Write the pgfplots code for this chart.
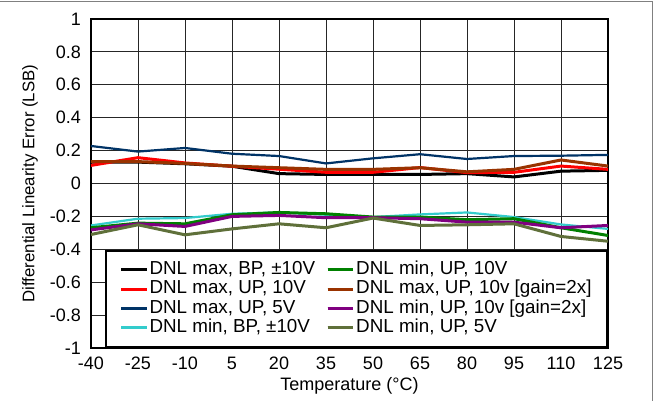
\documentclass[border=0pt]{standalone}
\usepackage{pgfplots}
\pgfplotsset{compat=1.18}
\usepackage{fontspec}
\setmainfont{Liberation Sans}
\definecolor{cnavy}{RGB}{0,51,102}
\definecolor{ccyan}{RGB}{51,204,204}
\definecolor{cgreen}{RGB}{0,128,0}
\definecolor{cbrown}{RGB}{153,51,0}
\definecolor{cpurple}{RGB}{128,0,128}
\definecolor{colive}{RGB}{95,112,58}
\begin{document}
\begin{tikzpicture}[x=1bp,y=1bp]
\useasboundingbox (-91,-52) rectangle (565,348);
\draw[gray,line width=1bp] (-95,347) -- (561,347) -- (561,-60);
\begin{axis}[
  scale only axis,
  width=517bp, height=329bp,
  at={(0,0)}, anchor=south west,
  xmin=-40, xmax=125, ymin=-1, ymax=1,
  xtick={-40,-25,...,125},
  ytick={-1,-0.8,...,1.01},
  yticklabels={-1,-0.8,-0.6,-0.4,-0.2,0,0.2,0.4,0.6,0.8,1},
  grid=major,
  major grid style={black!85, line width=0.8bp},
  major tick length=0pt,
  axis line style={line width=2.6bp},
  /pgf/number format/assume math mode=true,
  tick label style={font=\fontsize{18bp}{20bp}\selectfont, inner sep=0pt},
  xticklabel style={anchor=base, yshift=-21.5bp},
  yticklabel style={anchor=east, xshift=-10bp},
  xlabel={Temperature (°C)},
  ylabel={Differential Linearity Error (LSB)},
  xlabel style={font=\fontsize{18bp}{20bp}\selectfont, at={(axis description cs:0.5,0)}, anchor=base, inner sep=0pt, yshift=-42.5bp},
  ylabel style={font=\fontsize{16.8bp}{20bp}\selectfont, at={(axis description cs:-0.118,0.5)}, anchor=center, inner sep=0pt},
  legend columns=2,
  legend cell align=left,
  legend style={at={(1,0)}, anchor=south east, draw=black, line width=2bp,
    font=\fontsize{18.8bp}{20bp}\selectfont,
    inner xsep=14bp, inner ysep=9.5bp,
    nodes={inner sep=1.5bp, text height=12.8bp, text depth=3.5bp},
    /tikz/every even column/.append style={column sep=9.5bp}},
  legend image code/.code={\draw[#1] (0bp,0bp) -- (16bp,0bp); \path (0bp,0bp) -- (25.5bp,0bp);},
]
\addplot[black, line width=3bp, forget plot] coordinates {(-40,0.13) (-25,0.13) (-10,0.12) (5,0.105) (20,0.06) (35,0.055) (50,0.055) (65,0.055) (80,0.06) (95,0.04) (110,0.075) (125,0.08)};
\addplot[red, line width=3bp, forget plot] coordinates {(-40,0.11) (-25,0.157) (-10,0.125) (5,0.105) (20,0.087) (35,0.068) (50,0.068) (65,0.097) (80,0.066) (95,0.068) (110,0.106) (125,0.086)};
\addplot[cnavy, line width=2.2bp, forget plot] coordinates {(-40,0.228) (-25,0.194) (-10,0.216) (5,0.181) (20,0.167) (35,0.122) (50,0.153) (65,0.178) (80,0.149) (95,0.167) (110,0.169) (125,0.174)};
\addplot[ccyan, line width=2.2bp, forget plot] coordinates {(-40,-0.255) (-25,-0.214) (-10,-0.21) (5,-0.184) (20,-0.176) (35,-0.19) (50,-0.204) (65,-0.188) (80,-0.176) (95,-0.204) (110,-0.249) (125,-0.276)};
\addplot[cgreen, line width=3bp, forget plot] coordinates {(-40,-0.269) (-25,-0.241) (-10,-0.245) (5,-0.19) (20,-0.176) (35,-0.184) (50,-0.204) (65,-0.204) (80,-0.22) (95,-0.214) (110,-0.269) (125,-0.316)};
\addplot[cbrown, line width=3bp, forget plot] coordinates {(-40,0.133) (-25,0.133) (-10,0.122) (5,0.106) (20,0.096) (35,0.086) (50,0.086) (65,0.096) (80,0.071) (95,0.086) (110,0.143) (125,0.106)};
\addplot[cpurple, line width=3bp, forget plot] coordinates {(-40,-0.282) (-25,-0.245) (-10,-0.261) (5,-0.2) (20,-0.194) (35,-0.208) (50,-0.208) (65,-0.214) (80,-0.235) (95,-0.235) (110,-0.269) (125,-0.255)};
\addplot[colive, line width=3bp, forget plot] coordinates {(-40,-0.31) (-25,-0.251) (-10,-0.312) (5,-0.276) (20,-0.245) (35,-0.269) (50,-0.21) (65,-0.255) (80,-0.251) (95,-0.245) (110,-0.322) (125,-0.351)};
\addlegendimage{black, line width=3bp}\addlegendentry{DNL max, BP, ±10V}
\addlegendimage{cgreen, line width=3bp}\addlegendentry{DNL min, UP, 10V}
\addlegendimage{red, line width=3bp}\addlegendentry{DNL max, UP, 10V}
\addlegendimage{cbrown, line width=3bp}\addlegendentry{DNL max, UP, 10v [gain=2x]}
\addlegendimage{cnavy, line width=3bp}\addlegendentry{DNL max, UP, 5V}
\addlegendimage{cpurple, line width=3bp}\addlegendentry{DNL min, UP, 10v [gain=2x]}
\addlegendimage{ccyan, line width=3bp}\addlegendentry{DNL min, BP, ±10V}
\addlegendimage{colive, line width=3bp}\addlegendentry{DNL min, UP, 5V}
\end{axis}
\end{tikzpicture}
\end{document}
